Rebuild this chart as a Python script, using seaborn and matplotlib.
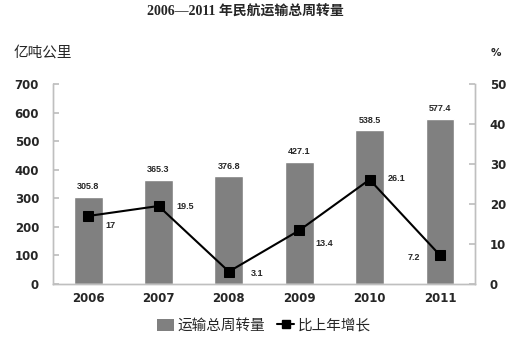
import matplotlib
matplotlib.use("Agg")
import matplotlib.pyplot as plt
import seaborn as sns
import pandas as pd
from matplotlib.patches import Patch
from matplotlib.lines import Line2D

years = ["2006", "2007", "2008", "2009", "2010", "2011"]
volume = [305.8, 365.3, 376.8, 427.1, 538.5, 577.4]
growth = [17, 19.5, 3.1, 13.4, 26.1, 7.2]
growth_labels = ["17", "19.5", "3.1", "13.4", "26.1", "7.2"]
left_ticks = [0, 100, 200, 300, 400, 500, 600, 700]
right_ticks = [0, 10, 20, 30, 40, 50]

# label offsets in pixels (dx, dy down) relative to markers
label_offsets = [(22, 10), (27, 1), (28, 2), (25, 13), (27, -1), (-26, 2)]

sns.set_theme(style="white")
plt.rcParams['font.family'] = ['Noto Sans CJK SC', 'DejaVu Sans']

df = pd.DataFrame({"year": years, "volume": volume, "growth": growth})

fig = plt.figure(figsize=(5.17, 3.42), dpi=100)
ax = fig.add_axes([0.1025, 0.1696, 0.8165, 0.5848])
sns.barplot(data=df, x="year", y="volume", color="#808080", saturation=1,
            width=0.41, ax=ax)
ax.set_ylim(0, 700)
ax.set_yticks(left_ticks)
ax.set_xlim(-0.5, 5.5)
ax.set_xlabel("")
ax.set_ylabel("")

ax2 = ax.twinx()
sns.lineplot(x=list(range(len(years))), y=growth, ax=ax2, color="black",
             marker="s", markersize=6.5, markeredgecolor="black", linewidth=1.5)
ax2.set_ylim(0, 50)
ax2.set_yticks(right_ticks)
ax2.set_ylabel("")

for a in (ax, ax2):
    for s in a.spines.values():
        s.set_color("#BFBFBF")
        s.set_linewidth(1)
    a.spines["top"].set_visible(False)
    a.tick_params(axis="both", direction="in", length=4, color="#BFBFBF",
                  labelsize=8.5)
    for lab in a.get_yticklabels() + a.get_xticklabels():
        lab.set_fontweight("bold")
        lab.set_family(["DejaVu Sans"])
ax.tick_params(axis="x", length=0, pad=6)
ax.tick_params(axis="y", pad=10)
ax2.tick_params(axis="y", pad=10.5)

for i, v in enumerate(volume):
    ax.annotate(f"{v}", (i, v), xytext=(0, 4), textcoords="offset points",
                ha="center", va="bottom", fontsize=6.5, fontweight="bold",
                family=["Liberation Sans"])
px = 0.72
for i, (g, lab) in enumerate(zip(growth, growth_labels)):
    dx, dy = label_offsets[i]
    ax2.annotate(lab, (i, g), xytext=(dx * px, -dy * px), textcoords="offset points",
                 ha="center", va="center", fontsize=6.5, fontweight="bold",
                 family=["Liberation Sans"])

fig.text(0.474, 0.965, "2006—2011 年民航运输总周转量", ha="center", va="center",
         fontsize=10, fontweight="bold", family=["Liberation Serif", "Noto Sans CJK SC"])
fig.text(0.027, 0.845, "亿吨公里", ha="left", va="center", fontsize=10.5)
fig.text(0.96, 0.845, "%", ha="center", va="center", fontsize=7.5,
         fontweight="bold", family=["DejaVu Sans"])

handles = [Patch(facecolor="#808080", edgecolor="none"),
           Line2D([0], [0], color="black", marker="s", markersize=6, linewidth=1.5)]
fig.legend(handles, ["运输总周转量", "比上年增长"], loc="center",
           bbox_to_anchor=(0.51, 0.047), ncol=2, frameon=False, fontsize=10.5,
           handlelength=1.2, handleheight=0.9, handletextpad=0.2, columnspacing=0.8)

fig.savefig("out.png", dpi=100)
